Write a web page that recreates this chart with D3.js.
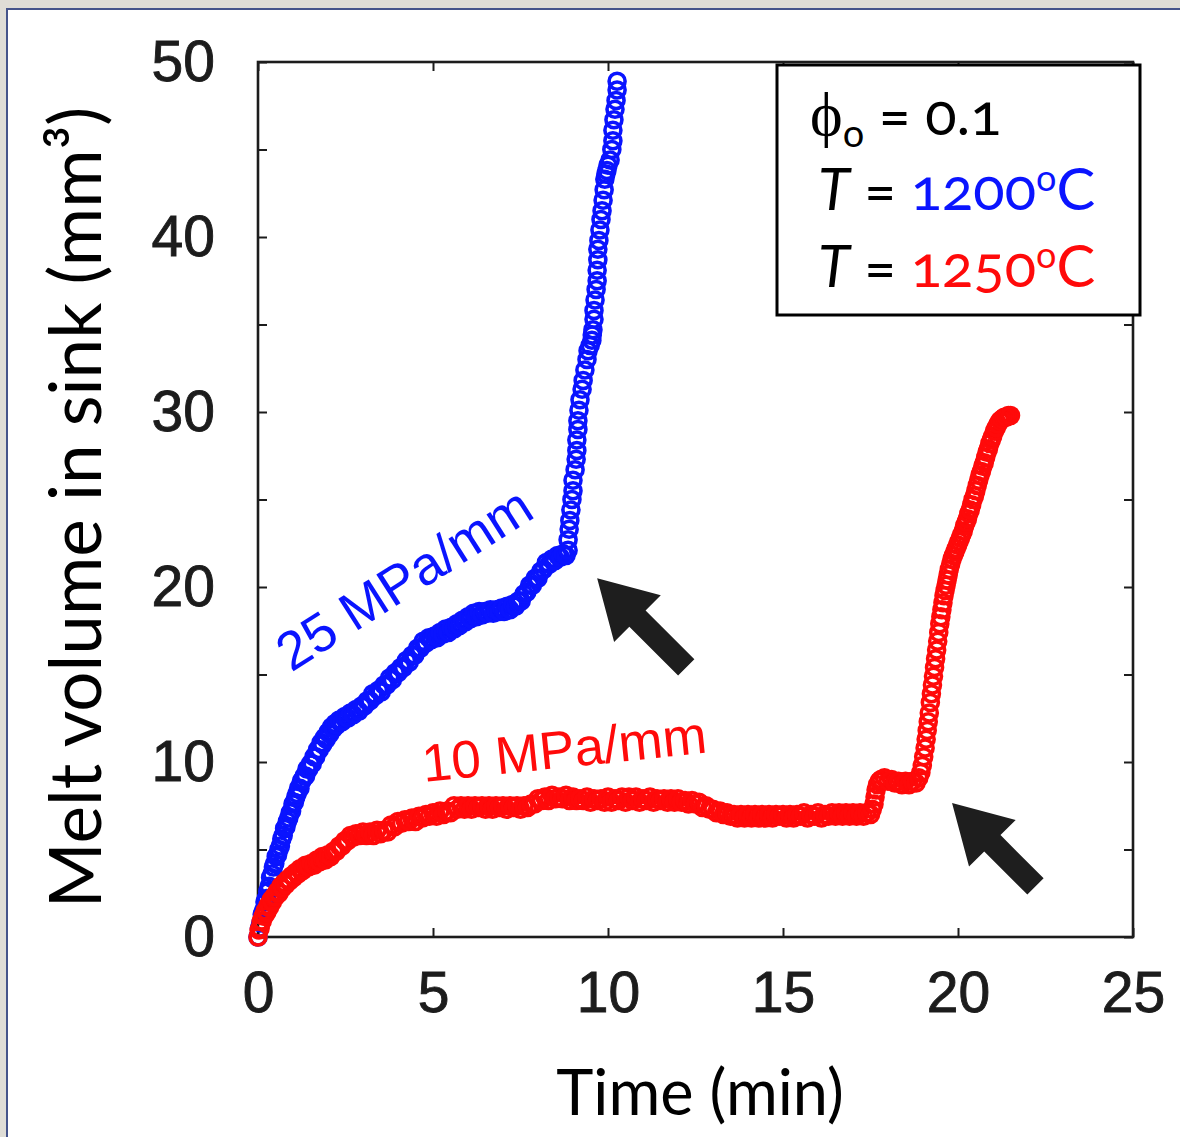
<!DOCTYPE html>
<html>
<head>
<meta charset="utf-8">
<script src="https://cdn.jsdelivr.net/npm/d3@7"></script>
<style>
  html, body { margin: 0; padding: 0; background: #fff; }
  svg { display: block; }
</style>
</head>
<body>
<svg id="chart" width="1180" height="1137"></svg>
<script>
// ---- data -------------------------------------------------------------
// Melt volume collected in the sink (mm^3) against time (min)
const xTicks = [0, 5, 10, 15, 20, 25];
const yTicks = [0, 10, 20, 30, 40, 50];
const yTickMarks = [0, 5, 10, 15, 20, 25, 30, 35, 40, 45, 50];

// 25 MPa/mm, T = 1200 °C  [time, volume]
const run1200 = [
  [0.00,0.0],[0.04,0.5],[0.08,0.8],[0.12,1.3],[0.16,1.5],[0.20,2.0],[0.24,2.2],[0.28,2.6],
  [0.32,2.9],[0.36,3.4],[0.40,3.6],[0.44,4.0],[0.48,4.2],[0.52,4.6],[0.56,4.7],[0.60,5.0],
  [0.64,5.2],[0.68,5.6],[0.72,5.8],[0.76,6.2],[0.80,6.3],[0.84,6.6],[0.88,6.8],[0.92,7.1],
  [0.96,7.2],[1.00,7.6],[1.04,7.7],[1.08,8.0],[1.12,8.2],[1.16,8.5],[1.20,8.5],[1.24,8.9],
  [1.28,9.0],[1.32,9.2],[1.36,9.2],[1.40,9.6],[1.45,9.6],[1.50,9.9],[1.55,9.9],[1.60,10.3],
  [1.65,10.3],[1.70,10.7],[1.75,10.7],[1.80,11.1],[1.85,11.0],[1.90,11.4],[1.95,11.3],[2.00,11.7],
  [2.05,11.6],[2.10,12.0],[2.15,11.9],[2.20,12.2],[2.25,12.1],[2.32,12.4],[2.40,12.3],[2.48,12.6],
  [2.56,12.5],[2.64,12.8],[2.72,12.7],[2.80,13.0],[2.88,12.9],[2.96,13.2],[3.04,13.2],[3.12,13.5],
  [3.20,13.5],[3.28,13.9],[3.36,13.8],[3.44,14.1],[3.52,14.0],[3.60,14.4],[3.68,14.4],[3.76,14.8],
  [3.84,14.7],[3.92,15.1],[4.00,15.1],[4.08,15.4],[4.16,15.4],[4.24,15.8],[4.32,15.7],[4.40,16.1],
  [4.48,16.1],[4.56,16.5],[4.64,16.5],[4.72,16.9],[4.80,16.8],[4.88,17.1],[4.96,17.0],[5.04,17.2],
  [5.12,17.1],[5.20,17.4],[5.28,17.3],[5.36,17.6],[5.44,17.4],[5.52,17.7],[5.60,17.6],[5.68,17.9],
  [5.76,17.8],[5.84,18.1],[5.92,18.0],[6.00,18.3],[6.08,18.2],[6.16,18.5],[6.24,18.3],[6.32,18.6],
  [6.40,18.4],[6.48,18.6],[6.56,18.5],[6.64,18.7],[6.72,18.5],[6.80,18.7],[6.88,18.6],[6.96,18.8],
  [7.04,18.6],[7.12,18.9],[7.20,18.7],[7.28,19.0],[7.36,18.9],[7.44,19.2],[7.52,19.2],[7.60,19.6],
  [7.68,19.7],[7.76,20.1],[7.84,20.1],[7.92,20.5],[8.00,20.5],[8.08,20.9],[8.16,21.0],[8.24,21.4],
  [8.32,21.3],[8.40,21.6],[8.48,21.5],[8.56,21.8],[8.64,21.7],[8.72,21.9],[8.80,21.8],[8.86,22.1],
  [8.86,22.7],[8.89,23.3],[8.91,23.8],[8.94,24.4],[8.97,25.0],[9.00,25.5],[9.00,26.1],[9.06,26.7],
  [9.09,27.3],[9.11,27.8],[9.11,28.4],[9.14,29.0],[9.14,29.5],[9.17,30.1],[9.20,30.7],[9.26,31.3],
  [9.29,31.8],[9.34,32.4],[9.40,33.0],[9.43,33.5],[9.49,33.8],[9.54,34.1],[9.55,34.4],[9.57,34.7],
  [9.60,35.3],[9.60,35.8],[9.63,36.4],[9.66,37.0],[9.69,37.5],[9.69,38.1],[9.71,38.7],[9.71,39.3],
  [9.74,39.8],[9.77,40.4],[9.80,41.0],[9.83,41.5],[9.86,42.1],[9.89,42.7],[9.91,43.3],[9.94,43.6],
  [9.97,43.8],[10.00,44.1],[10.06,44.4],[10.11,45.0],[10.14,45.5],[10.14,46.1],[10.17,46.7],[10.20,47.3],
  [10.23,47.8],[10.26,48.4],[10.26,48.9]
];

// 10 MPa/mm, T = 1250 °C  [time, volume]
const run1250 = [
  [0.00,0.0],[0.03,0.4],[0.06,0.5],[0.09,0.9],[0.12,0.9],[0.15,1.2],[0.18,1.2],[0.21,1.5],
  [0.25,1.4],[0.29,1.8],[0.33,1.7],[0.37,2.1],[0.41,2.0],[0.45,2.3],[0.50,2.3],[0.55,2.6],
  [0.60,2.5],[0.65,2.9],[0.70,2.8],[0.75,3.1],[0.80,3.0],[0.85,3.3],[0.90,3.2],[0.96,3.5],
  [1.02,3.4],[1.08,3.7],[1.14,3.6],[1.20,3.9],[1.28,3.8],[1.36,4.1],[1.44,4.0],[1.52,4.2],
  [1.60,4.1],[1.68,4.4],[1.76,4.3],[1.84,4.6],[1.92,4.4],[2.00,4.7],[2.08,4.6],[2.16,4.9],
  [2.24,4.9],[2.32,5.2],[2.40,5.2],[2.48,5.5],[2.56,5.5],[2.64,5.8],[2.72,5.7],[2.80,5.9],
  [2.90,5.8],[3.00,6.0],[3.10,5.8],[3.20,6.0],[3.30,5.8],[3.40,6.1],[3.50,5.9],[3.60,6.1],
  [3.70,6.0],[3.80,6.4],[3.90,6.3],[4.00,6.6],[4.10,6.5],[4.20,6.7],[4.30,6.6],[4.40,6.8],
  [4.50,6.6],[4.60,6.9],[4.70,6.8],[4.80,7.0],[4.90,6.9],[5.00,7.1],[5.10,6.9],[5.20,7.2],
  [5.30,7.0],[5.40,7.2],[5.50,7.1],[5.60,7.5],[5.70,7.3],[5.80,7.5],[5.90,7.3],[6.00,7.5],
  [6.10,7.3],[6.20,7.5],[6.30,7.4],[6.40,7.5],[6.50,7.3],[6.60,7.5],[6.70,7.3],[6.80,7.5],
  [6.90,7.4],[7.00,7.5],[7.10,7.3],[7.20,7.5],[7.30,7.4],[7.40,7.5],[7.50,7.3],[7.60,7.5],
  [7.70,7.4],[7.80,7.6],[7.90,7.6],[8.00,7.9],[8.10,7.8],[8.20,8.0],[8.30,7.8],[8.40,8.1],
  [8.50,7.9],[8.60,8.0],[8.70,7.9],[8.80,8.1],[8.90,7.8],[9.00,8.0],[9.10,7.8],[9.20,7.9],
  [9.30,7.8],[9.40,8.0],[9.50,7.7],[9.60,7.9],[9.70,7.8],[9.80,7.9],[9.90,7.7],[10.00,8.0],
  [10.10,7.7],[10.20,7.9],[10.30,7.8],[10.40,8.0],[10.50,7.7],[10.60,8.0],[10.70,7.8],[10.80,8.0],
  [10.90,7.7],[11.00,7.9],[11.10,7.8],[11.20,8.0],[11.30,7.7],[11.40,7.9],[11.50,7.8],[11.60,7.9],
  [11.70,7.7],[11.80,7.9],[11.90,7.7],[12.00,7.9],[12.10,7.7],[12.20,7.8],[12.30,7.6],[12.40,7.8],
  [12.50,7.6],[12.60,7.7],[12.70,7.4],[12.80,7.5],[12.90,7.3],[13.00,7.3],[13.10,7.1],[13.20,7.2],
  [13.30,7.0],[13.40,7.1],[13.50,6.9],[13.60,7.0],[13.70,6.8],[13.80,7.0],[13.90,6.8],[14.00,7.0],
  [14.10,6.8],[14.20,7.0],[14.30,6.8],[14.40,7.0],[14.50,6.8],[14.60,7.0],[14.70,6.8],[14.80,7.0],
  [14.90,6.9],[15.00,7.0],[15.10,6.8],[15.20,7.0],[15.30,6.8],[15.40,7.0],[15.50,6.9],[15.60,7.1],
  [15.70,6.8],[15.80,7.0],[15.90,6.9],[16.00,7.1],[16.10,6.8],[16.20,7.0],[16.30,6.9],[16.40,7.1],
  [16.50,6.9],[16.60,7.1],[16.70,6.9],[16.80,7.1],[16.90,6.9],[17.00,7.1],[17.10,6.9],[17.20,7.1],
  [17.30,6.9],[17.40,7.1],[17.50,7.0],[17.55,7.3],[17.60,7.6],[17.63,8.0],[17.66,8.4],[17.70,8.7],
  [17.75,8.9],[17.80,9.0],[17.90,9.1],[18.00,8.9],[18.10,9.0],[18.20,8.8],[18.30,8.9],[18.40,8.7],
  [18.50,8.9],[18.60,8.7],[18.70,8.9],[18.80,8.8],[18.88,9.1],[18.94,9.4],[18.98,9.8],[19.02,10.3],
  [19.06,10.8],[19.09,11.3],[19.12,11.8],[19.15,12.3],[19.18,12.8],[19.21,13.4],[19.24,13.9],[19.27,14.4],
  [19.30,14.9],[19.33,15.4],[19.36,15.9],[19.39,16.4],[19.42,16.9],[19.45,17.4],[19.48,17.9],[19.51,18.3],
  [19.54,18.7],[19.57,19.1],[19.60,19.5],[19.63,19.8],[19.66,20.1],[19.69,20.4],[19.72,20.7],[19.75,21.0],
  [19.79,21.3],[19.83,21.6],[19.87,21.8],[19.91,22.0],[19.95,22.2],[19.99,22.4],[20.03,22.6],[20.07,22.8],
  [20.11,23.0],[20.15,23.2],[20.19,23.5],[20.23,23.7],[20.27,23.9],[20.31,24.2],[20.35,24.4],[20.39,24.7],
  [20.43,25.0],[20.47,25.2],[20.51,25.5],[20.55,25.8],[20.59,26.1],[20.63,26.4],[20.67,26.6],[20.71,26.9],
  [20.75,27.1],[20.79,27.4],[20.83,27.7],[20.87,27.9],[20.91,28.2],[20.95,28.4],[20.99,28.6],[21.04,28.9],
  [21.09,29.1],[21.14,29.3],[21.20,29.5],[21.26,29.6],[21.32,29.7],[21.38,29.7],[21.44,29.8],[21.50,29.8]
];

// arrow tips marking the onset of rapid drainage [time, volume]
const arrowTips = [[9.69, 20.5], [19.83, 7.66]];
// where each series label starts [time, volume]
const labelAnchors = [[0.95, 15.1], [4.74, 8.86]];

// ---- layout -----------------------------------------------------------
const svg = d3.select("#chart");
const W = 1180, H = 1137;
const plot = { left: 258, right: 1133, top: 62, bottom: 937 };
const BLUE = "#0a14ff", RED = "#ff0a0a", INK = "#1c1c1c";

const x = d3.scaleLinear().domain([0, 25]).range([plot.left, plot.right]);
const y = d3.scaleLinear().domain([0, 50]).range([plot.bottom, plot.top]);

// window frame around the figure
svg.append("rect").attr("x", 0).attr("y", 0).attr("width", W).attr("height", H).attr("fill", "#fff");
svg.append("rect").attr("x", 0).attr("y", 0).attr("width", W).attr("height", 8).attr("fill", "#dfddd6");
svg.append("rect").attr("x", 0).attr("y", 0).attr("width", 6).attr("height", H).attr("fill", "#dfddd6");
svg.append("line").attr("x1", 6).attr("x2", W).attr("y1", 9).attr("y2", 9)
  .attr("stroke", "#45548a").attr("stroke-width", 2);
svg.append("line").attr("x1", 7).attr("x2", 7).attr("y1", 8).attr("y2", H)
  .attr("stroke", "#45548a").attr("stroke-width", 2);

// ---- axes -------------------------------------------------------------
const tickFont = "'Liberation Sans', Arial, Helvetica, sans-serif";

const gx = svg.append("g").attr("transform", `translate(0,${plot.bottom})`)
  .call(d3.axisBottom(x).tickValues(xTicks).tickSizeInner(-9).tickSizeOuter(0).tickPadding(35));
const gy = svg.append("g").attr("transform", `translate(${plot.left},0)`)
  .call(d3.axisLeft(y).tickValues(yTickMarks).tickSizeInner(-9).tickSizeOuter(0).tickPadding(43)
    .tickFormat(d => yTicks.includes(d) ? d : ""));
const gt = svg.append("g").attr("transform", `translate(0,${plot.top})`)
  .call(d3.axisTop(x).tickValues(xTicks).tickSizeInner(-9).tickSizeOuter(0).tickFormat(""));
const gr = svg.append("g").attr("transform", `translate(${plot.right},0)`)
  .call(d3.axisRight(y).tickValues(yTickMarks).tickSizeInner(-9).tickSizeOuter(0).tickFormat(""));

[gx, gy, gt, gr].forEach(g => {
  g.select(".domain").remove();
  g.selectAll(".tick line").attr("stroke", INK).attr("stroke-width", 2);
  g.selectAll(".tick text").attr("fill", INK).attr("font-family", tickFont).attr("font-size", 57)
    .attr("stroke", INK).attr("stroke-width", 0.9);
});

svg.append("rect")
  .attr("x", plot.left).attr("y", plot.top)
  .attr("width", plot.right - plot.left).attr("height", plot.bottom - plot.top)
  .attr("fill", "none").attr("stroke", INK).attr("stroke-width", 2.6);

// axis titles
const titleFont = "Lato, 'Open Sans', sans-serif";
svg.append("text")
  .attr("x", 700).attr("y", 1115)
  .attr("text-anchor", "middle")
  .attr("font-family", titleFont).attr("font-size", 63).attr("fill", "#000")
  .text("Time (min)");

svg.append("text")
  .attr("transform", `translate(101,${(plot.top + plot.bottom) / 2 + 8}) rotate(-90)`)
  .attr("text-anchor", "middle")
  .attr("font-family", titleFont).attr("font-size", 71).attr("fill", "#000")
  .text("Melt volume in sink (mm³)");

// ---- series -----------------------------------------------------------
function drawRun(data, color) {
  svg.append("g")
    .selectAll("circle")
    .data(data)
    .join("circle")
    .attr("cx", d => x(d[0]))
    .attr("cy", d => y(d[1]))
    .attr("r", 8)
    .attr("fill", "none")
    .attr("stroke", color)
    .attr("stroke-width", 3.6);
}
drawRun(run1200, BLUE);
drawRun(run1250, RED);

// series labels
svg.append("text")
  .attr("transform", `translate(${x(labelAnchors[0][0])},${y(labelAnchors[0][1])}) rotate(-32.5)`)
  .attr("font-family", tickFont).attr("font-size", 54).attr("fill", BLUE)
  .text("25 MPa/mm");
svg.append("text")
  .attr("transform", `translate(${x(labelAnchors[1][0])},${y(labelAnchors[1][1])}) rotate(-5.9)`)
  .attr("font-family", tickFont).attr("font-size", 53).attr("fill", RED)
  .text("10 MPa/mm");

// ---- arrows -----------------------------------------------------------
function arrowPath(tip, len) {
  const px = x(tip[0]), py = y(tip[1]);
  const c = Math.SQRT1_2, s = Math.SQRT1_2;          // pointing up-left, tail to lower right
  const head = 57, wing = 33, shaft = 11.5;
  const pts = [[0, 0], [head, -wing], [head, -shaft], [len, -shaft],
               [len, shaft], [head, shaft], [head, wing]];
  return "M" + pts.map(([a, p]) => [px + a * c - p * s, py + a * s + p * c].join(",")).join("L") + "Z";
}
svg.append("path").attr("d", arrowPath(arrowTips[0], 126)).attr("fill", "#1e1e1e");
svg.append("path").attr("d", arrowPath(arrowTips[1], 118)).attr("fill", "#1e1e1e");

// ---- legend box -------------------------------------------------------
svg.append("rect")
  .attr("x", 777).attr("y", 65).attr("width", 363).attr("height", 250)
  .attr("fill", "#fff").attr("stroke", "#000").attr("stroke-width", 3);

const legFont = "Lato, 'Open Sans', sans-serif";
const l1 = svg.append("text").attr("x", 810).attr("y", 135)
  .attr("font-family", legFont).attr("font-size", 58).attr("fill", "#000")
  .style("font-variant-numeric", "oldstyle-nums");
l1.append("tspan").attr("font-family", "'Liberation Serif', 'DejaVu Serif', serif").attr("font-size", 62).text("ϕ");
l1.append("tspan").attr("font-size", 38).attr("dy", 12).text("o");
l1.append("tspan").attr("dy", -12).text(" = 0.1");

function tempLine(yPos, value, color) {
  const t = svg.append("text").attr("x", 818).attr("y", yPos)
    .attr("font-family", legFont).attr("font-size", 58).attr("fill", "#000")
    .style("font-variant-numeric", "oldstyle-nums");
  t.append("tspan").attr("font-style", "italic").text("T");
  t.append("tspan").text(" = ");
  t.append("tspan").attr("fill", color).text(value);
  t.append("tspan").attr("fill", color).attr("font-size", 36).attr("dy", -19).text("o");
  t.append("tspan").attr("fill", color).attr("dy", 19).text("C");
}
tempLine(210, "1200", BLUE);
tempLine(287, "1250", RED);
</script>
</body>
</html>
